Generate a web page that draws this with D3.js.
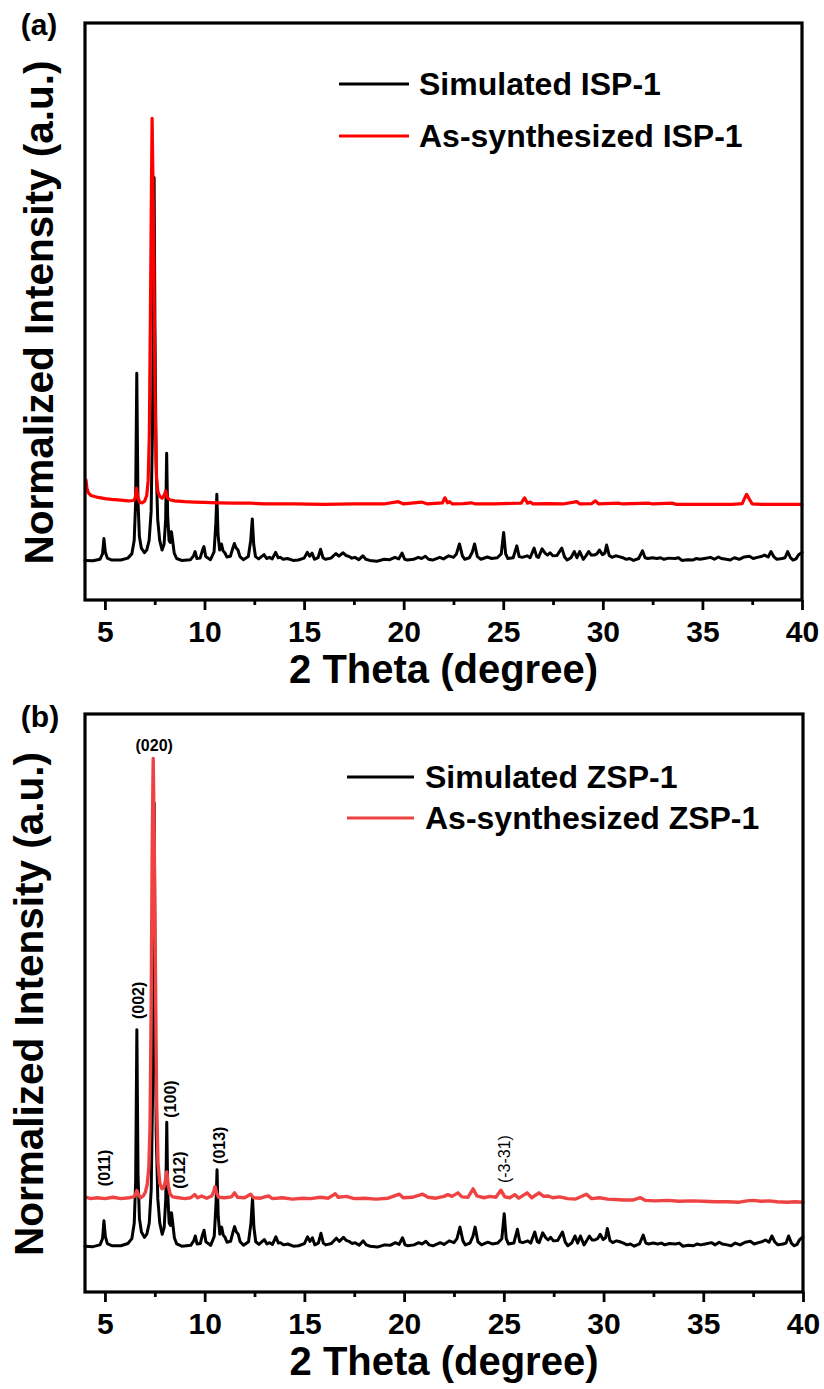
<!DOCTYPE html>
<html><head><meta charset="utf-8">
<script src="https://cdn.jsdelivr.net/npm/d3@7"></script>
<style>
body{margin:0;background:#fff;}
text{font-family:"Liberation Sans", Arial, Helvetica, sans-serif;}
</style>
</head><body>
<svg id="chart" width="824" height="1389"></svg>
<script>
// ---------------- DATA ----------------
const xMajorTicks = [5, 10, 15, 20, 25, 30, 35, 40];
const xMinorTicks = [7.5, 12.5, 17.5, 22.5, 27.5, 32.5, 37.5];
const xTitle = "2 Theta (degree)";
const yTitle = "Normalized Intensity (a.u.)";
const panelLabels = ["(a)", "(b)"];
const legendA = ["Simulated ISP-1", "As-synthesized ISP-1"];
const legendB = ["Simulated ZSP-1", "As-synthesized ZSP-1"];

// simulated pattern (2theta, normalized intensity; same in both panels)
const simulated = [
[4.0,0.3],[4.4,0.2],[4.75,0.6],[4.88,2.0],[4.95,6.0],[5.02,2.5],[5.12,0.9],[5.35,0.4],[5.8,0.4],[6.15,0.9],
[6.35,2.0],[6.47,5.5],[6.54,15],[6.6,49],[6.66,16],[6.73,6.5],[6.83,3.5],[6.98,2.3],[7.1,3.0],[7.22,5.5],
[7.32,13],[7.39,35],[7.44,75],[7.47,100],[7.51,62],[7.57,26],[7.65,11],[7.75,5.5],[7.87,3.0],[7.97,4.5],
[8.05,11],[8.1,28.2],[8.15,12],[8.22,5.5],[8.28,5],[8.34,7.8],[8.4,5.5],[8.48,2.2],[8.6,0.8],[8.85,0.3],
[9.3,0.5],[9.45,1.5],[9.53,2.6],[9.62,0.8],[9.78,0.9],[9.9,3.0],[9.97,3.9],[10.06,1.3],[10.3,0.5],[10.48,2.5],
[10.57,10],[10.62,17.5],[10.68,7],[10.76,3.0],[10.85,4.6],[10.93,2.8],[11.02,2.3],[11.12,1.2],[11.3,1.4],[11.42,3.5],
[11.5,4.7],[11.58,3.6],[11.68,3.0],[11.78,1.3],[11.95,0.5],[12.2,1.3],[12.32,5.5],[12.4,11.1],[12.47,4.5],[12.56,1.3],
[12.72,0.7],[12.99,1.8],[13.12,0.8],[13.26,1.1],[13.4,0.7],[13.57,2.4],[13.7,1.0],[13.8,1.1],[13.95,0.6],[14.16,0.8],
[14.45,0.3],[14.71,0.4],[15.0,0.9],[15.16,2.4],[15.28,1.4],[15.4,2.2],[15.52,0.6],[15.7,1.0],[15.83,3.2],[15.95,1.0],
[16.07,0.6],[16.35,0.9],[16.6,2.1],[16.75,1.4],[16.96,2.3],[17.1,1.6],[17.23,1.4],[17.4,0.9],[17.55,1.1],[17.75,0.5],
[17.95,1.5],[18.1,0.6],[18.3,0.3],[18.66,0.1],[19.02,0.6],[19.3,0.5],[19.56,1.1],[19.75,0.7],[19.92,2.2],[20.05,0.6],
[20.19,0.4],[20.5,0.6],[20.73,1.1],[20.9,0.8],[21.09,1.4],[21.25,0.6],[21.45,0.4],[21.81,1.1],[22.0,0.7],[22.26,1.5],
[22.5,1.1],[22.65,2.0],[22.8,4.6],[22.95,1.5],[23.07,0.6],[23.3,1.0],[23.45,2.5],[23.56,4.6],[23.7,1.3],[23.88,0.6],
[24.2,1.2],[24.42,0.8],[24.7,1.0],[24.9,2.0],[25.02,7.6],[25.12,2.0],[25.23,0.8],[25.5,1.0],[25.68,4.1],[25.8,1.3],
[25.95,1.1],[26.2,1.5],[26.35,1.0],[26.55,3.5],[26.68,1.3],[26.77,1.1],[26.95,3.3],[27.1,2.2],[27.22,1.7],[27.35,2.3],
[27.49,1.5],[27.7,1.6],[27.94,3.5],[28.08,1.2],[28.21,0.4],[28.4,1.0],[28.57,2.6],[28.7,1.0],[28.84,2.6],[29.02,0.6],
[29.15,1.5],[29.29,2.6],[29.42,1.7],[29.56,1.7],[29.7,2.0],[29.83,3.0],[29.98,1.8],[30.1,2.2],[30.19,4.3],[30.32,1.6],
[30.46,1.1],[30.65,1.5],[30.82,1.3],[31.0,1.0],[31.18,0.6],[31.35,0.8],[31.54,0.3],[31.8,0.8],[31.99,2.8],[32.12,1.0],
[32.26,0.8],[32.5,1.0],[32.71,0.8],[32.9,1.0],[33.07,0.6],[33.3,0.9],[33.61,0.8],[33.8,1.0],[33.97,0.3],[34.25,0.5],
[34.51,0.4],[34.7,0.8],[34.87,0.6],[35.1,0.8],[35.41,1.1],[35.6,0.6],[35.8,1.2],[35.95,0.8],[36.2,0.6],[36.4,0.4],
[36.6,1.0],[36.85,0.6],[37.1,1.2],[37.36,1.4],[37.55,0.8],[37.76,1.1],[37.95,1.3],[38.12,1.7],[38.3,1.2],[38.44,2.6],
[38.58,1.3],[38.74,0.6],[39.0,0.8],[39.15,1.0],[39.28,2.6],[39.42,1.0],[39.55,0.4],[39.7,0.7],[39.82,1.7],[40.0,2.4]
];

// as-synthesized ISP-1 (panel a, stacked units)
const asISP = [
[4.05,21.2],[4.1,19.0],[4.18,17.8],[4.3,17.2],[4.66,16.7],[5.0,16.4],[5.33,16.2],[5.8,16.0],[6.17,15.8],[6.45,15.9],
[6.53,16.8],[6.59,19.1],[6.65,16.8],[6.75,15.4],[6.88,15.3],[7.0,15.8],[7.1,17.2],[7.17,21],[7.23,33],[7.29,68],
[7.34,100],[7.37,115.4],[7.41,100],[7.45,81],[7.52,42],[7.59,22],[7.66,18.2],[7.75,17.0],[7.87,16.5],[7.97,17.2],
[8.05,18.4],[8.12,16.8],[8.25,16.1],[8.5,15.8],[9.0,15.6],[9.5,15.5],[10.0,15.4],[10.67,15.3],[11.5,15.2],[12.3,15.2],
[13.0,15.0],[14.5,15.0],[16.0,14.9],[17.5,15.0],[19.0,15.0],[19.73,15.6],[20.0,15.0],[20.9,15.5],[21.2,15.0],[21.95,15.3],
[22.07,16.6],[22.2,15.3],[22.3,15.6],[22.45,15.0],[23.0,15.1],[23.4,15.3],[23.6,15.0],[24.5,15.0],[25.0,15.1],[25.9,15.2],
[26.07,16.6],[26.22,15.2],[26.35,15.5],[26.5,15.0],[27.2,15.1],[28.0,15.0],[28.69,15.6],[28.85,15.0],[29.45,15.1],[29.63,15.8],
[29.8,15.0],[30.76,15.2],[31.0,15.0],[32.3,15.2],[32.5,15.0],[33.5,15.2],[33.7,14.9],[35.0,14.9],[36.5,14.9],[37.0,15.1],
[37.12,16.5],[37.22,17.5],[37.33,16.5],[37.5,15.0],[38.0,14.9],[39.0,14.9],[40.0,14.9]
];

// as-synthesized ZSP-1 (panel b, stacked units)
const asZSP = [
[4.05,11.3],[4.3,11.0],[4.6,11.2],[5.0,11.0],[5.4,11.3],[5.8,11.0],[6.2,11.2],[6.45,11.4],[6.53,12.0],[6.6,12.8],
[6.68,11.8],[6.8,11.2],[6.92,11.6],[7.03,12.5],[7.12,14.2],[7.2,18],[7.26,27],[7.32,55],[7.37,90],[7.42,110],
[7.47,92],[7.53,63],[7.59,33],[7.66,19],[7.75,14.5],[7.86,13.2],[7.96,13.6],[8.03,15.0],[8.1,17.0],[8.17,14.0],
[8.27,12.0],[8.4,11.4],[8.7,11.2],[9.0,11.0],[9.3,11.2],[9.5,11.9],[9.65,11.2],[9.85,11.6],[10.1,11.1],[10.35,11.6],
[10.45,12.5],[10.52,13.7],[10.6,12.3],[10.7,11.3],[11.0,11.2],[11.35,11.4],[11.5,12.3],[11.65,11.3],[12.0,11.2],[12.3,12.0],
[12.45,11.2],[12.8,11.1],[13.2,11.6],[13.4,11.0],[13.9,11.2],[14.4,10.9],[14.9,11.1],[15.3,11.0],[15.8,11.3],[16.2,11.1],
[16.55,12.1],[16.7,11.3],[17.1,11.5],[17.5,11.0],[18.0,11.1],[18.6,10.9],[19.2,11.1],[19.76,12.0],[19.95,11.2],[20.4,11.3],
[20.93,12.0],[21.2,11.3],[21.6,11.1],[22.0,11.5],[22.19,11.9],[22.4,11.5],[22.7,12.3],[22.9,11.4],[23.2,11.3],[23.46,13.2],
[23.65,11.6],[24.0,11.2],[24.3,11.5],[24.6,11.3],[24.85,12.9],[25.05,11.4],[25.3,11.2],[25.55,11.9],[25.75,11.1],[26.17,12.3],
[26.4,11.2],[26.76,12.3],[27.0,11.5],[27.2,11.6],[27.45,11.2],[27.8,11.4],[28.2,11.0],[28.6,10.9],[29.14,12.0],[29.4,11.0],
[29.8,11.2],[30.2,10.9],[30.6,10.8],[31.0,10.7],[31.5,10.7],[31.85,11.2],[32.1,10.6],[32.6,10.5],[33.2,10.6],[33.8,10.4],
[34.4,10.5],[35.0,10.4],[35.6,10.3],[36.2,10.3],[36.8,10.2],[37.2,10.5],[37.5,10.6],[37.9,10.4],[38.3,10.5],[38.7,10.3],
[39.2,10.2],[39.6,10.3],[40.0,10.2]
];

// Miller index annotations in panel b
const hklLabels = ["(011)", "(002)", "(020)", "(100)", "(012)", "(013)", "(-3-31)"];
const hklTheta  = [5.0, 6.66, 7.47, 8.29, 8.72, 10.75, 25.04];
const hklInt    = [17.9, 55.6, 111.6, 33.4, 17.4, 23.0, 19.9];
const hklRot    = [true, true, false, true, true, true, true];

// ---------------- DRAW ----------------
const svg = d3.select("#chart");
const panels = [
  {label: panelLabels[0], top: 23, bottom: 600, left: 85, right: 802, yDomain: [-10, 140.2],
   series: [{data: simulated, color: "#000000", w: 3}, {data: asISP, color: "#ff0000", w: 3.2}],
   legend: legendA, legendColors: ["#000000", "#ff0000"],
   legX: [339, 409], legY: [84, 136], legTextX: 419, yTitleX: 53, labelPos: [39, 35]},
  {label: panelLabels[1], top: 714, bottom: 1292, left: 85, right: 803, yDomain: [-10, 120],
   series: [{data: simulated, color: "#000000", w: 3}, {data: asZSP, color: "#ef4343", w: 3.4}],
   legend: legendB, legendColors: ["#000000", "#ef4343"],
   legX: [347, 414], legY: [777, 818], legTextX: 425, yTitleX: 43, labelPos: [40, 727]}
];

panels.forEach((p, pi) => {
  const g = svg.append("g");
  const x = d3.scaleLinear().domain([4, 40]).range([p.left, p.right]);
  const y = d3.scaleLinear().domain(p.yDomain).range([p.bottom, p.top]);

  const line = d3.line().x(d => x(d[0])).y(d => y(d[1]));
  p.series.forEach(s => {
    g.append("path").datum(s.data).attr("d", line)
      .attr("fill", "none").attr("stroke", s.color).attr("stroke-width", s.w)
      .attr("stroke-linejoin", "round").attr("stroke-linecap", "round");
  });

  g.append("rect").attr("x", p.left).attr("y", p.top)
    .attr("width", p.right - p.left).attr("height", p.bottom - p.top)
    .attr("fill", "none").attr("stroke", "#000").attr("stroke-width", 3.2);

  const ax = g.append("g").attr("transform", `translate(0,${p.bottom})`)
    .call(d3.axisBottom(x).tickValues(xMajorTicks).tickSize(10).tickFormat(d3.format("d")));
  ax.select(".domain").remove();
  ax.selectAll(".tick line").attr("stroke", "#000").attr("stroke-width", 2.8);
  ax.selectAll(".tick text").attr("y", 42).attr("dy", null)
    .style("font-size", "30px").style("font-weight", "bold").attr("fill", "#000")
    .style("font-family", '"Liberation Sans", Arial, sans-serif');
  const mx = g.append("g").attr("transform", `translate(0,${p.bottom})`)
    .call(d3.axisBottom(x).tickValues(xMinorTicks).tickSize(5).tickFormat(""));
  mx.select(".domain").remove();
  mx.selectAll(".tick line").attr("stroke", "#000").attr("stroke-width", 2.8);

  g.append("text").attr("x", (p.left + p.right) / 2).attr("y", p.bottom + 83)
    .attr("text-anchor", "middle").style("font-size", "40px").style("font-weight", "bold")
    .text(xTitle);
  g.append("text").attr("transform", `translate(${p.yTitleX},${(p.top + p.bottom) / 2 + 1}) rotate(-90)`)
    .attr("text-anchor", "middle").style("font-size", "40.5px").style("font-weight", "bold")
    .text(yTitle);

  g.append("text").attr("x", p.labelPos[0]).attr("y", p.labelPos[1])
    .attr("text-anchor", "middle").style("font-size", "30px").style("font-weight", "bold")
    .text(p.label);

  p.legend.forEach((t, i) => {
    g.append("line").attr("x1", p.legX[0]).attr("x2", p.legX[1])
      .attr("y1", p.legY[i]).attr("y2", p.legY[i])
      .attr("stroke", p.legendColors[i]).attr("stroke-width", 3.2);
    g.append("text").attr("x", p.legTextX).attr("y", p.legY[i] + 11)
      .style("font-size", "32px").style("font-weight", "bold").text(t);
  });

  if (pi === 1) {
    hklLabels.forEach((t, i) => {
      const tx = x(hklTheta[i]), ty = y(hklInt[i]);
      const el = g.append("text").style("font-size", "16px")
        .style("font-weight", t === "(-3-31)" ? "normal" : "bold").text(t);
      if (hklRot[i]) {
        el.attr("transform", `translate(${tx},${ty}) rotate(-90)`)
          .attr("text-anchor", "middle").attr("dominant-baseline", "central");
      } else {
        el.attr("x", tx).attr("y", ty).attr("text-anchor", "middle");
      }
    });
  }
});
</script>
</body></html>
